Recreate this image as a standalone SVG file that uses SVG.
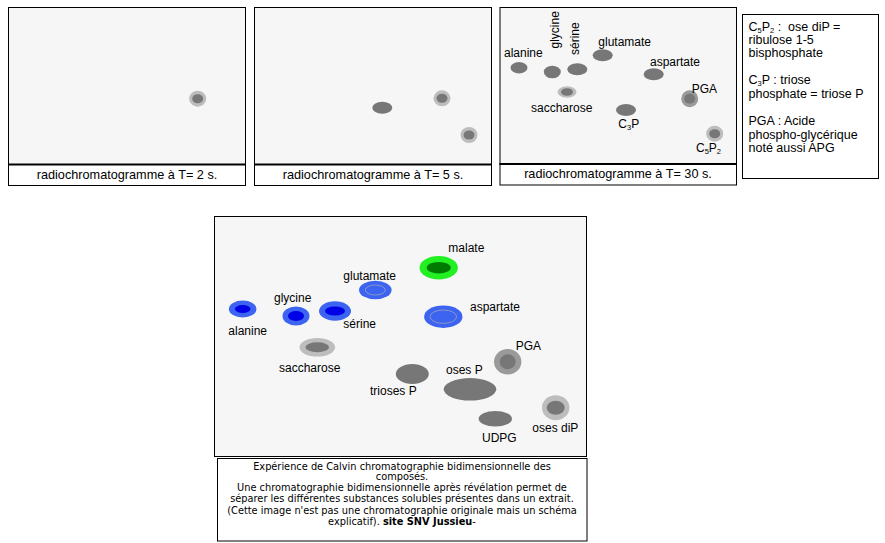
<svg xmlns="http://www.w3.org/2000/svg" width="885" height="543" viewBox="0 0 885 543">
<style>
.bg{fill:#f6f6f6;stroke:#000;stroke-width:1}
.cap{fill:#fff;stroke:#000;stroke-width:1}
.sep{stroke:#000;stroke-width:2.2}
.t{font-family:"Liberation Sans",Arial,sans-serif;font-size:12px;fill:#000}
.h{font-size:12.7px}
.lg{font-size:12.5px}
.c{text-anchor:middle}
.sb{font-size:7.5px}
.dk{fill:#777}
.lt{fill:#bdbdbd}
.md{fill:#9a9a9a}
.bl{fill:#3c64f0}
.db{fill:#0000e6}
.ring{fill:none;stroke:#8a96c8;stroke-width:1}
.cp{font-family:"DejaVu Sans",Verdana,sans-serif;font-size:9.8px;fill:#000;text-anchor:middle}
</style>

<g id="panel-t2">
<rect class="bg" x="8.5" y="7.5" width="237" height="157"/>
<rect class="cap" x="8.5" y="164.5" width="237" height="21"/>
<line class="sep" x1="8" y1="164.5" x2="246" y2="164.5"/>
<text class="t h c" x="127" y="178.5">radiochromatogramme à T= 2 s.</text>
<ellipse class="lt" cx="197.7" cy="98.7" rx="8.5" ry="8"/>
<ellipse class="dk" cx="197.7" cy="98.7" rx="5.5" ry="4.5"/>
</g>

<g id="panel-t5">
<rect class="bg" x="254.5" y="7.5" width="237" height="157"/>
<rect class="cap" x="254.5" y="164.5" width="237" height="21"/>
<line class="sep" x1="254" y1="164.5" x2="492" y2="164.5"/>
<text class="t h c" x="373" y="178.5">radiochromatogramme à T= 5 s.</text>
<ellipse class="dk" cx="382.3" cy="107.7" rx="10" ry="6"/>
<ellipse class="lt" cx="442" cy="98.3" rx="8.5" ry="8"/>
<ellipse class="dk" cx="442" cy="98.3" rx="5.5" ry="4.5"/>
<ellipse class="lt" cx="469" cy="135" rx="8.5" ry="8"/>
<ellipse class="dk" cx="469" cy="135" rx="5.5" ry="4.5"/>
</g>

<g id="panel-t30">
<rect class="bg" x="500" y="7.5" width="236.5" height="156.5"/>
<rect class="cap" x="500" y="164" width="236.5" height="21"/>
<line class="sep" x1="499.5" y1="164" x2="737" y2="164"/>
<text class="t h c" x="618" y="178">radiochromatogramme à T= 30 s.</text>
<ellipse class="dk" cx="519" cy="67.7" rx="8.5" ry="5.7"/>
<ellipse class="dk" cx="552.3" cy="72" rx="8.5" ry="6.3"/>
<ellipse class="dk" cx="577.3" cy="69.3" rx="10" ry="6"/>
<ellipse class="dk" cx="602.7" cy="55.3" rx="10" ry="6"/>
<ellipse class="dk" cx="653.7" cy="74.3" rx="10" ry="6"/>
<ellipse class="md" cx="689.7" cy="98.7" rx="8.5" ry="8.5"/>
<ellipse class="dk" cx="689.7" cy="98.7" rx="5.5" ry="5"/>
<ellipse class="lt" cx="567" cy="92" rx="9.5" ry="5.7"/>
<ellipse class="dk" cx="567" cy="92" rx="6" ry="3.8"/>
<ellipse class="dk" cx="626" cy="110" rx="10" ry="6"/>
<ellipse class="lt" cx="714.7" cy="133.7" rx="8.5" ry="8"/>
<ellipse class="dk" cx="714.7" cy="133.7" rx="5.5" ry="4.5"/>
<text class="t" x="504" y="57">alanine</text>
<text class="t" transform="translate(558.5,48.5) rotate(-90)">glycine</text>
<text class="t" transform="translate(578.5,55) rotate(-90)">sérine</text>
<text class="t" x="598.3" y="46">glutamate</text>
<text class="t" x="650" y="66">aspartate</text>
<text class="t" x="691.7" y="93">PGA</text>
<text class="t" x="531" y="111.5">saccharose</text>
<text class="t" x="618.3" y="128">C<tspan class="sb" baseline-shift="-1.5">3</tspan>P</text>
<text class="t" x="696" y="152">C<tspan class="sb" baseline-shift="-1.5">5</tspan>P<tspan class="sb" baseline-shift="-1.5">2</tspan></text>
</g>

<g id="legend">
<rect class="cap" x="742.5" y="14.5" width="136" height="164"/>
<text class="t lg" x="748.5" y="30.5" xml:space="preserve">C<tspan class="sb" baseline-shift="-1.5">5</tspan>P<tspan class="sb" baseline-shift="-1.5">2</tspan> :  ose diP =</text>
<text class="t lg" x="748.5" y="44">ribulose 1-5</text>
<text class="t lg" x="748.5" y="57">bisphosphate</text>
<text class="t lg" x="748.5" y="84">C<tspan class="sb" baseline-shift="-1.5">3</tspan>P : triose</text>
<text class="t lg" x="748.5" y="97.5">phosphate = triose P</text>
<text class="t lg" x="748.5" y="125">PGA : Acide</text>
<text class="t lg" x="748.5" y="138.5">phospho-glycérique</text>
<text class="t lg" x="748.5" y="151.5">noté aussi APG</text>
</g>

<g id="panel-main">
<rect class="bg" x="214.5" y="216.5" width="372" height="240"/>
<ellipse class="bl" cx="242.7" cy="309" rx="13.8" ry="8.5"/>
<ellipse class="db" cx="242.7" cy="309" rx="7.8" ry="4"/>
<ellipse class="bl" cx="296" cy="316" rx="13.5" ry="9.5"/>
<ellipse class="db" cx="296" cy="316" rx="8" ry="5"/>
<ellipse class="bl" cx="335" cy="311" rx="16" ry="9.7"/>
<ellipse class="db" cx="335" cy="311" rx="10" ry="4.5"/>
<ellipse class="bl" cx="375.3" cy="290" rx="16.3" ry="9.3"/>
<ellipse class="ring" cx="375.3" cy="290" rx="10" ry="5"/>
<ellipse fill="#22f022" cx="438.7" cy="267.7" rx="19.2" ry="11.7"/>
<ellipse fill="#007a00" cx="438.7" cy="267.7" rx="12" ry="5.8"/>
<ellipse class="bl" cx="443.3" cy="316.7" rx="19.2" ry="11.2"/>
<ellipse class="ring" cx="443.3" cy="316.7" rx="13.3" ry="6.7"/>
<ellipse class="lt" cx="317.3" cy="347.3" rx="17.8" ry="9.3"/>
<ellipse class="dk" cx="317.3" cy="347.3" rx="11.7" ry="5"/>
<ellipse class="md" cx="507.7" cy="361.7" rx="13.7" ry="12.8"/>
<ellipse class="dk" cx="507.7" cy="361.7" rx="8" ry="7.5"/>
<ellipse class="dk" cx="412.3" cy="374" rx="16.5" ry="10"/>
<ellipse class="dk" cx="470" cy="389.3" rx="26.3" ry="11.2"/>
<ellipse class="dk" cx="495.3" cy="418.7" rx="16.7" ry="7.8"/>
<ellipse class="lt" cx="555.7" cy="407.7" rx="13.7" ry="12.5"/>
<ellipse class="dk" cx="555.7" cy="407.7" rx="9" ry="7"/>
<text class="t" x="448.3" y="252">malate</text>
<text class="t" x="343.3" y="279.5">glutamate</text>
<text class="t" x="274" y="302">glycine</text>
<text class="t" x="470" y="311">aspartate</text>
<text class="t" x="228.3" y="334.5">alanine</text>
<text class="t" x="343.3" y="327.5">sérine</text>
<text class="t" x="515.7" y="350">PGA</text>
<text class="t" x="279" y="372">saccharose</text>
<text class="t" x="446" y="374">oses P</text>
<text class="t" x="370" y="395">trioses P</text>
<text class="t" x="532.3" y="432">oses diP</text>
<text class="t" x="482" y="442">UDPG</text>
</g>

<g id="caption">
<rect class="cap" x="217.5" y="458.5" width="369.5" height="82.5"/>
<text class="cp" x="402" y="469.5">Expérience de Calvin chromatographie bidimensionnelle des</text>
<text class="cp" x="402" y="480">composés.</text>
<text class="cp" x="402" y="491">Une chromatographie bidimensionnelle après révélation permet de</text>
<text class="cp" x="402" y="502">séparer les différentes substances solubles présentes dans un extrait.</text>
<text class="cp" x="402" y="513.5">(Cette image n'est pas une chromatographie originale mais un schéma</text>
<text class="cp" x="402" y="524.5">explicatif). <tspan font-weight="bold">site SNV Jussieu</tspan>-</text>
</g>
</svg>
